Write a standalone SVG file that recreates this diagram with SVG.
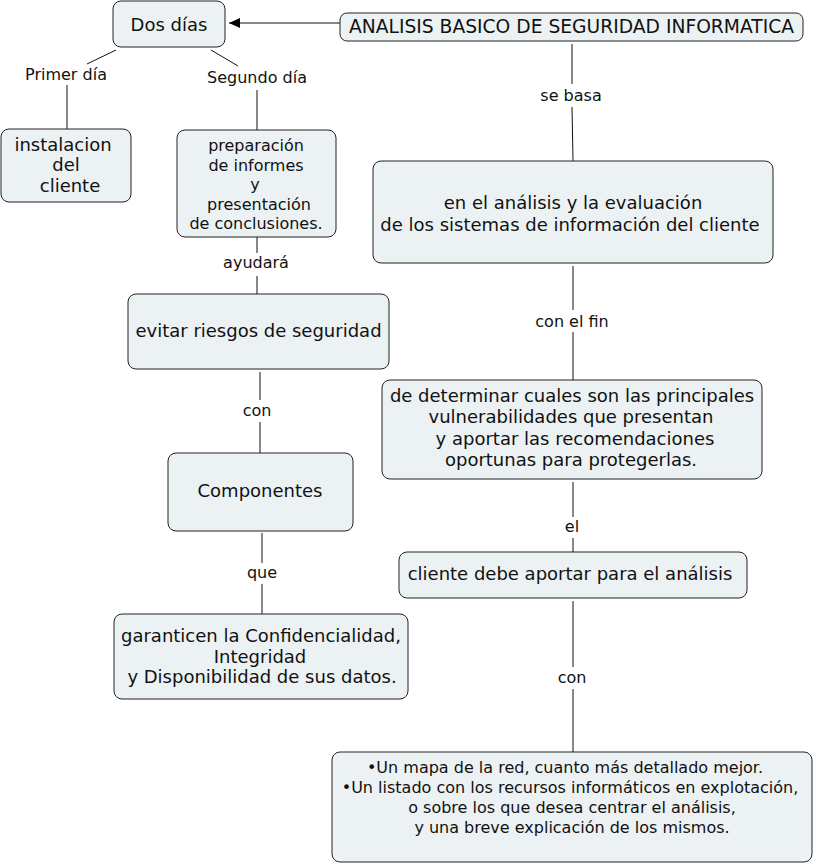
<svg xmlns="http://www.w3.org/2000/svg" width="814" height="865" viewBox="0 0 814 865">
<style>
  .box { fill: #ecf2f4; stroke: #222; stroke-width: 1; }
  .t18 { font-family: "DejaVu Sans", Verdana, sans-serif; font-size: 18px; fill: #111; text-anchor: middle; }
  .t16 { font-family: "DejaVu Sans", Verdana, sans-serif; font-size: 16px; fill: #111; text-anchor: middle; }
  .lbl { font-family: "DejaVu Sans", Verdana, sans-serif; font-size: 16px; fill: #111; text-anchor: middle; }
  .ln { stroke: #111; stroke-width: 1; fill: none; }
</style>
<defs>
  <marker id="arr" markerWidth="12" markerHeight="12" refX="11" refY="6" orient="auto" markerUnits="userSpaceOnUse">
    <path d="M0,1 L11,6 L0,11 z" fill="#000"/>
  </marker>
</defs>
<rect width="814" height="865" fill="#fff"/>

<g id="connectors">
  <line class="ln" x1="340" y1="23" x2="229" y2="23" marker-end="url(#arr)"/>
  <line class="ln" x1="116" y1="50" x2="87" y2="64"/>
  <text class="lbl" x="66" y="80">Primer día</text>
  <line class="ln" x1="67" y1="85" x2="67" y2="129"/>
  <line class="ln" x1="211" y1="50" x2="238" y2="66"/>
  <text class="lbl" x="257" y="83">Segundo día</text>
  <line class="ln" x1="257" y1="90" x2="257" y2="130"/>
  <line class="ln" x1="257" y1="237" x2="257" y2="253"/>
  <text class="lbl" x="256" y="268">ayudará</text>
  <line class="ln" x1="257" y1="276" x2="257" y2="294"/>
  <line class="ln" x1="260" y1="372" x2="260" y2="400"/>
  <text class="lbl" x="257" y="416">con</text>
  <line class="ln" x1="260" y1="422" x2="260" y2="453"/>
  <line class="ln" x1="262" y1="533" x2="262" y2="563"/>
  <text class="lbl" x="262" y="578">que</text>
  <line class="ln" x1="262" y1="584" x2="262" y2="614"/>
  <line class="ln" x1="572" y1="44" x2="572" y2="84"/>
  <text class="lbl" x="571" y="101">se basa</text>
  <line class="ln" x1="572" y1="107" x2="573" y2="161"/>
  <line class="ln" x1="573" y1="266" x2="573" y2="310"/>
  <text class="lbl" x="572" y="327">con el fin</text>
  <line class="ln" x1="573" y1="332" x2="573" y2="380"/>
  <line class="ln" x1="573" y1="482" x2="573" y2="517"/>
  <text class="lbl" x="572" y="532">el</text>
  <line class="ln" x1="573" y1="538" x2="573" y2="552"/>
  <line class="ln" x1="573" y1="601" x2="573" y2="667"/>
  <text class="lbl" x="572" y="683">con</text>
  <line class="ln" x1="573" y1="689" x2="573" y2="752"/>
</g>

<g id="dos-dias">
  <rect class="box" x="113" y="1" width="112" height="46" rx="8"/>
  <text class="t18" x="169" y="31">Dos días</text>
</g>
<g id="titulo">
  <rect class="box" x="340" y="13" width="463" height="28" rx="7"/>
  <text class="t18" x="571.5" y="33" style="font-size:18.7px">ANALISIS BASICO DE SEGURIDAD INFORMATICA</text>
</g>
<g id="instalacion">
  <rect class="box" x="1" y="129" width="130" height="73" rx="8"/>
  <text class="t18" x="63" y="151">instalacion</text>
  <text class="t18" x="66" y="171">del</text>
  <text class="t18" x="70" y="192">cliente</text>
</g>
<g id="preparacion">
  <rect class="box" x="177" y="130" width="159" height="107" rx="8"/>
  <text class="t16" x="256" y="151">preparación</text>
  <text class="t16" x="256" y="171">de informes</text>
  <text class="t16" x="255" y="190">y</text>
  <text class="t16" x="259" y="210">presentación</text>
  <text class="t16" x="256" y="229">de conclusiones.</text>
</g>
<g id="evitar">
  <rect class="box" x="128" y="294" width="261" height="75" rx="8"/>
  <text class="t18" x="258.5" y="337">evitar riesgos de seguridad</text>
</g>
<g id="componentes">
  <rect class="box" x="168" y="453" width="185" height="78" rx="8"/>
  <text class="t18" x="260" y="497">Componentes</text>
</g>
<g id="garanticen">
  <rect class="box" x="114" y="614" width="294" height="85" rx="8"/>
  <text class="t18" x="261" y="642">garanticen la Confidencialidad,</text>
  <text class="t18" x="260" y="663">Integridad</text>
  <text class="t18" x="262" y="683">y Disponibilidad de sus datos.</text>
</g>
<g id="analisis-evaluacion">
  <rect class="box" x="373" y="161" width="400" height="102" rx="8"/>
  <text class="t18" x="573" y="209">en el análisis y la evaluación</text>
  <text class="t18" x="570" y="231">de los sistemas de información del cliente</text>
</g>
<g id="determinar">
  <rect class="box" x="382" y="380" width="380" height="99" rx="8"/>
  <text class="t18" x="572" y="402">de determinar cuales son las principales</text>
  <text class="t18" x="571" y="423">vulnerabilidades que presentan</text>
  <text class="t18" x="575" y="445">y aportar las recomendaciones</text>
  <text class="t18" x="571" y="466">oportunas para protegerlas.</text>
</g>
<g id="cliente-aportar">
  <rect class="box" x="399" y="552" width="348" height="46" rx="8"/>
  <text class="t18" x="570" y="580">cliente debe aportar para el análisis</text>
</g>
<g id="mapa-red">
  <rect class="box" x="332" y="752" width="480" height="110" rx="8"/>
  <text class="t16" x="565" y="773">•Un mapa de la red, cuanto más detallado mejor.</text>
  <text class="t16" x="570" y="793">•Un listado con los recursos informáticos en explotación,</text>
  <text class="t16" x="572" y="813">o sobre los que desea centrar el análisis,</text>
  <text class="t16" x="572" y="833">y una breve explicación de los mismos.</text>
</g>
</svg>
